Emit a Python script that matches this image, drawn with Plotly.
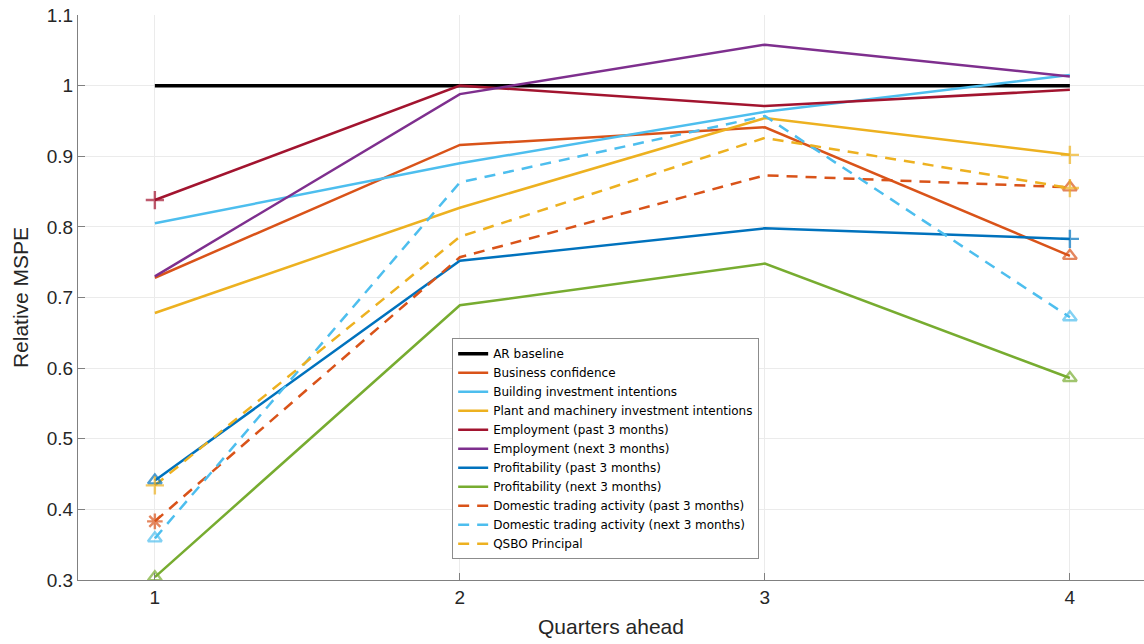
import plotly.graph_objects as go

quarters = [1, 2, 3, 4]

series_names = [
    "AR baseline",
    "Business confidence",
    "Building investment intentions",
    "Plant and machinery investment intentions",
    "Employment (past 3 months)",
    "Employment (next 3 months)",
    "Profitability (past 3 months)",
    "Profitability (next 3 months)",
    "Domestic trading activity (past 3 months)",
    "Domestic trading activity (next 3 months)",
    "QSBO Principal",
]

ar_baseline = [1.0, 1.0, 1.0, 1.0]
business_confidence = [0.728, 0.916, 0.941, 0.759]
building_investment = [0.805, 0.890, 0.963, 1.015]
plant_machinery = [0.678, 0.827, 0.954, 0.902]
employment_past = [0.838, 1.000, 0.971, 0.994]
employment_next = [0.730, 0.988, 1.058, 1.013]
profitability_past = [0.441, 0.752, 0.798, 0.783]
profitability_next = [0.304, 0.689, 0.748, 0.586]
domestic_past = [0.383, 0.757, 0.873, 0.856]
domestic_next = [0.359, 0.863, 0.957, 0.672]
qsbo_principal = [0.434, 0.786, 0.926, 0.855]

# significance markers per point ("" = no marker)
marks_business = ["", "", "", "tri"]
marks_plant = ["", "", "", "plus"]
marks_emp_past = ["plus", "", "", ""]
marks_prof_past = ["tri", "", "", "plus"]
marks_prof_next = ["tri", "", "", "tri"]
marks_dom_past = ["star", "", "", "tri"]
marks_dom_next = ["tri", "", "", "tri"]
marks_qsbo = ["plus", "", "", "plus"]
no_marks = ["", "", "", ""]

symbol_map = {"tri": "triangle-up-open", "plus": "cross-thin-open", "star": "asterisk-open"}
size_map = {"tri": 12, "plus": 13, "star": 13}

styles = [
    (ar_baseline, "#000000", "solid", 3.5, no_marks),
    (business_confidence, "#D95319", "solid", 2.5, marks_business),
    (building_investment, "#4DBEEE", "solid", 2.5, no_marks),
    (plant_machinery, "#EDB120", "solid", 2.5, marks_plant),
    (employment_past, "#A2142F", "solid", 2.5, marks_emp_past),
    (employment_next, "#7E2F8E", "solid", 2.5, no_marks),
    (profitability_past, "#0072BD", "solid", 2.5, marks_prof_past),
    (profitability_next, "#77AC30", "solid", 2.5, marks_prof_next),
    (domestic_past, "#D95319", "11px,8px", 2.5, marks_dom_past),
    (domestic_next, "#4DBEEE", "11px,8px", 2.5, marks_dom_next),
    (qsbo_principal, "#EDB120", "11px,8px", 2.5, marks_qsbo),
]

fig = go.Figure()
# lines (these carry the legend entries)
for name, (vals, color, dash, width, marks) in zip(series_names, styles):
    fig.add_trace(go.Scatter(
        x=quarters, y=vals, name=name, mode="lines",
        line=dict(color=color, width=width, dash=dash),
    ))
# point markers, kept out of the legend
for name, (vals, color, dash, width, marks) in zip(series_names, styles):
    idx = [i for i, m in enumerate(marks) if m]
    if not idx:
        continue
    fig.add_trace(go.Scatter(
        x=[quarters[i] for i in idx], y=[vals[i] for i in idx],
        mode="markers", showlegend=False, hoverinfo="skip",
        marker=dict(
            symbol=[symbol_map[marks[i]] for i in idx],
            size=[size_map[marks[i]] for i in idx],
            color=color,
            line=dict(color=color, width=2.4),
        ),
    ))

FONT = "Liberation Sans, Arial, sans-serif"
axis_font = dict(family=FONT, size=19, color="#262626")
title_font = dict(family=FONT, size=21, color="#262626")

fig.update_layout(
    width=1144, height=644,
    margin=dict(l=78, r=0, t=15, b=64),
    paper_bgcolor="white", plot_bgcolor="white",
    font=dict(family=FONT, color="#262626"),
    showlegend=True,
    legend=dict(
        x=0.351, y=0.428, xanchor="left", yanchor="top",
        bgcolor="white", bordercolor="#8c8c8c", borderwidth=1,
        font=dict(family="DejaVu Sans, sans-serif", size=12, color="#000000"),
        tracegroupgap=0, itemwidth=30,
    ),
    xaxis=dict(
        range=[0.748, 4.243], tickvals=quarters, ticktext=[str(q) for q in quarters],
        showgrid=True, gridcolor="#ebebeb", gridwidth=1,
        showline=True, linecolor="#808080", linewidth=1,
        ticks="inside", ticklen=7, tickcolor="#808080",
        tickfont=axis_font, zeroline=False,
        title=dict(text="Quarters ahead", font=title_font, standoff=12),
    ),
    yaxis=dict(
        range=[0.3, 1.1], tickvals=[0.3, 0.4, 0.5, 0.6, 0.7, 0.8, 0.9, 1.0, 1.1],
        ticktext=["0.3", "0.4", "0.5", "0.6", "0.7", "0.8", "0.9", "1", "1.1"],
        showgrid=True, gridcolor="#ebebeb", gridwidth=1,
        showline=True, linecolor="#808080", linewidth=1,
        ticks="inside", ticklen=7, tickcolor="#808080",
        tickfont=axis_font, zeroline=False,
        title=dict(text="Relative MSPE", font=title_font, standoff=12),
    ),
)

fig.write_html("out.html")
